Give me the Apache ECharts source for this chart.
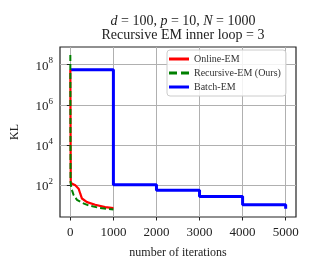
<!DOCTYPE html>
<html><head><meta charset="utf-8">
<script src="https://cdn.jsdelivr.net/npm/echarts@6/dist/echarts.min.js"></script>
<style>html,body{margin:0;padding:0;background:#fff}#c{width:314px;height:271px}</style>
</head><body><div id="c"></div>
<script>
// ---- data ----
const onlineX = [0, 10, 115, 192, 231, 270, 386, 577, 808, 1000];
const onlineY = [5.6e7, 130, 100, 68, 38, 22, 14.6, 10.8, 8.2, 7.3];
const recursiveX = [0, 5, 20, 40, 77, 154, 270, 423, 654, 1000];
const recursiveY = [3e8, 150, 80, 56, 32, 19, 13.6, 10, 7.7, 6.2];
const batchX = [0, 1000, 1000, 2000, 2000, 3000, 3000, 4000, 4000, 5000, 5000];
const batchY = [5.6e7, 5.6e7, 105, 105, 56, 56, 28, 28, 10.8, 10.8, 6.8];
const xTicks = [0, 1000, 2000, 3000, 4000, 5000];
const yTicks = [1e2, 1e4, 1e6, 1e8];
const seriesNames = ['Online-EM', 'Recursive-EM (Ours)', 'Batch-EM'];

const zip = (xs, ys) => xs.map((x, i) => [x, ys[i]]);
const FONT = 'Liberation Serif';
const SOLID = 'path://M0,0h20v3h-20z';
const DASHED = 'path://M0,0h8v3h-8z M12,0h8v3h-8z';

const chart = echarts.init(document.getElementById('c'), null, {renderer: 'canvas'});
chart.setOption({
  animation: false,
  backgroundColor: '#fff',
  textStyle: {fontFamily: FONT},
  title: {
    text: '{i|d} = 100, {i|p} = 10, {i|N} = 1000\nRecursive EM inner loop = 3',
    left: 178, top: 9, textAlign: 'center',
    textStyle: {
      fontFamily: FONT, fontSize: 14, fontWeight: 'normal', color: '#222', lineHeight: 14,
      rich: {i: {fontStyle: 'italic', fontFamily: FONT, fontSize: 14, color: '#222', lineHeight: 14}}
    }
  },
  grid: {left: 60, right: 18, top: 47, bottom: 54, show: true, borderColor: '#222', borderWidth: 1.2, containLabel: false},
  legend: {
    orient: 'vertical', left: 167, top: 50,
    itemWidth: 20, itemHeight: 8, itemGap: 4,
    padding: [4, 5, 4, 2],
    borderColor: '#ccc', borderWidth: 1, borderRadius: 3,
    backgroundColor: 'rgba(255,255,255,0.85)',
    textStyle: {fontFamily: FONT, fontSize: 10, color: '#333'},
    data: [
      {name: seriesNames[0], icon: SOLID},
      {name: seriesNames[1], icon: DASHED},
      {name: seriesNames[2], icon: SOLID}
    ]
  },
  xAxis: {
    type: 'value', min: -240, max: 5240,
    name: 'number of iterations', nameLocation: 'middle', nameGap: 30,
    nameTextStyle: {fontFamily: FONT, fontSize: 12, color: '#222'},
    axisLine: {show: false},
    axisTick: {show: true, inside: false, length: 3.5, customValues: xTicks, lineStyle: {color: '#222', width: 1}},
    axisLabel: {customValues: xTicks, formatter: v => String(v), fontFamily: FONT, fontSize: 13, color: '#222', margin: 9},
    splitLine: {show: true, customValues: xTicks, lineStyle: {color: '#b0b0b0', width: 1}}
  },
  yAxis: {
    type: 'log', logBase: 10, min: 2.65, max: 7.5e8,
    name: 'KL', nameLocation: 'middle', nameGap: 39, nameRotate: 90,
    nameTextStyle: {fontFamily: FONT, fontSize: 12, color: '#222'},
    axisLine: {show: false},
    axisTick: {show: true, inside: false, length: 3.5, customValues: yTicks, lineStyle: {color: '#222', width: 1}},
    axisLabel: {
      customValues: yTicks, margin: 7, color: '#222',
      formatter: v => '{b|10}{s|' + Math.round(Math.log10(v)) + '}',
      rich: {
        b: {fontFamily: FONT, fontSize: 13, color: '#222', lineHeight: 16, verticalAlign: 'bottom'},
        s: {fontFamily: FONT, fontSize: 9, color: '#222', lineHeight: 16, verticalAlign: 'top'}
      }
    },
    splitLine: {show: true, customValues: yTicks, lineStyle: {color: '#b0b0b0', width: 1}},
    minorTick: {show: false}
  },
  series: [
    {name: seriesNames[2], type: 'line', data: zip(batchX, batchY), showSymbol: false, symbol: 'none', z: 2,
     lineStyle: {color: '#0000ff', width: 3}, itemStyle: {color: '#0000ff'}},
    {name: seriesNames[0], type: 'line', data: zip(onlineX, onlineY), showSymbol: false, symbol: 'none', z: 3,
     lineStyle: {color: '#ff0000', width: 2.2}, itemStyle: {color: '#ff0000'}},
    {name: seriesNames[1], type: 'line', data: zip(recursiveX, recursiveY), showSymbol: false, symbol: 'none', z: 4,
     lineStyle: {color: '#008000', width: 2, type: [6, 3]}, itemStyle: {color: '#008000'}}
  ]
});
</script></body></html>
